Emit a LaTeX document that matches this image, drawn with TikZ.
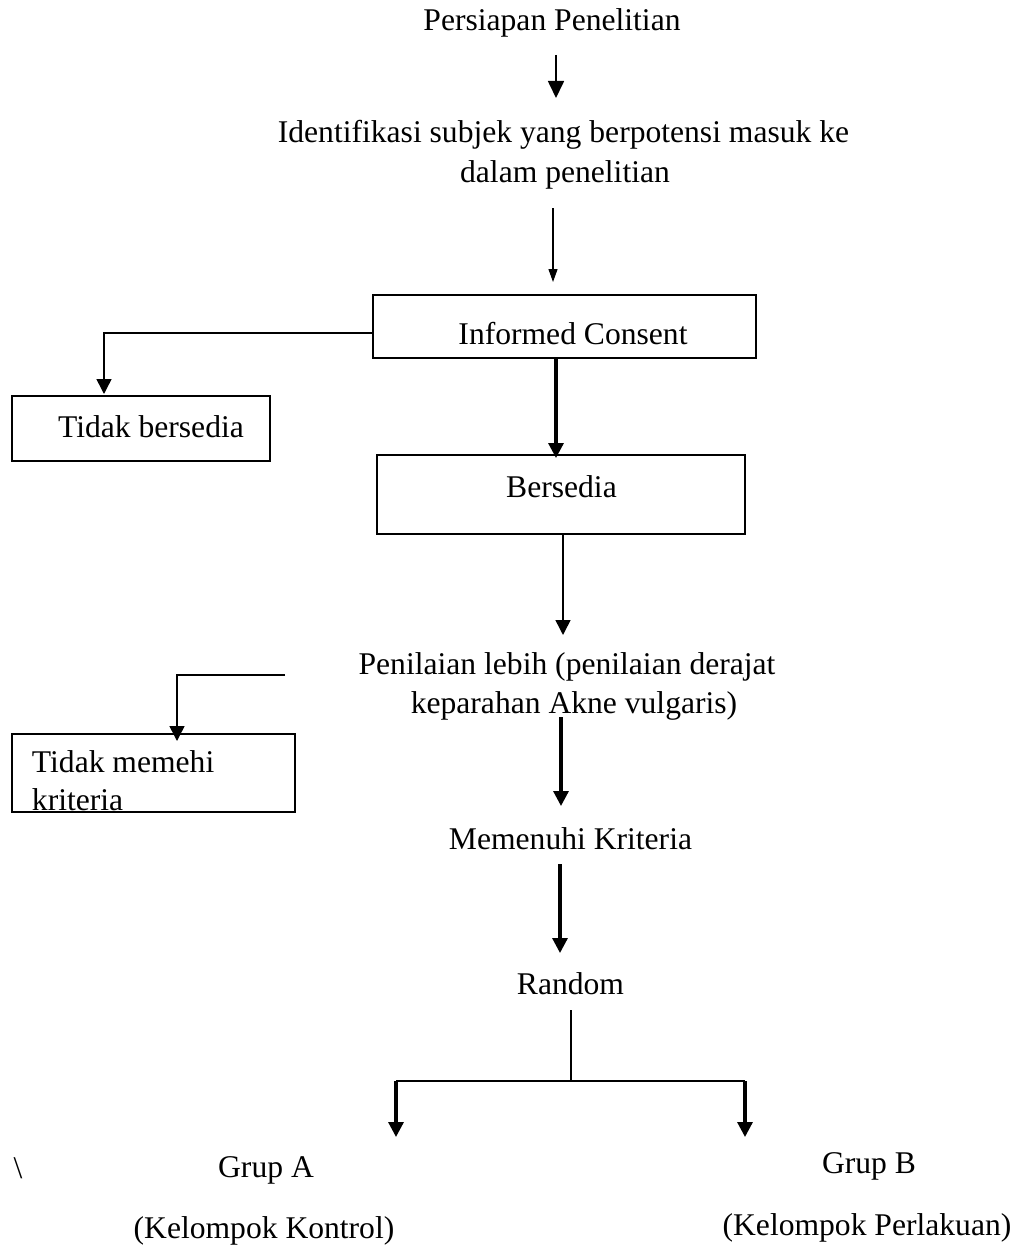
\documentclass[tikz,border=0pt]{standalone}
\usepackage{fontspec}
\setmainfont{Liberation Serif}
\usetikzlibrary{arrows.meta}
\begin{document}
\begin{tikzpicture}[x=0.5pt,y=-0.5pt,
  txt/.style={inner sep=0pt,outer sep=0pt,anchor=base,font=\fontsize{15.8}{20}\selectfont},
  txtw/.style={txt,anchor=base west},
  box/.style={draw,line width=0.9pt,inner sep=0pt,outer sep=0pt},
  thin/.style={line width=0.75pt,-{Triangle[width=7.5pt,length=7.5pt]}},
  thinsmall/.style={line width=0.6pt,-{Triangle[width=4.5pt,length=6.5pt]}},
  thick/.style={line width=1.6pt,-{Triangle[width=7.5pt,length=7.5pt]}},
  plain/.style={line width=0.75pt}]
\useasboundingbox (0,0) rectangle (1016,1247);

% boxes
\node[box,minimum width=191.5pt,minimum height=31.5pt] (ic) at (564.5,326.5) {};
\node[box,minimum width=129pt,minimum height=32.5pt] (tb) at (141,428.5) {};
\node[box,minimum width=184pt,minimum height=39.5pt] (bs) at (561,494.5) {};
\node[box,minimum width=141.5pt,minimum height=39pt] (tm) at (153.5,773) {};

% texts
\node[txt] (persiapan) at (552,31) {Persiapan Penelitian};
\node[txt] (ident1) at (563.5,142) {Identifikasi subjek yang berpotensi masuk ke};
\node[txt] (ident2) at (565,182) {dalam penelitian};
\node[txt] (ictxt) at (573,344) {Informed Consent};
\node[txt] (tbtxt) at (151,437) {Tidak bersedia};
\node[txt] (bstxt) at (561.5,497) {Bersedia};
\node[txt] (pen1) at (567,674) {Penilaian lebih (penilaian derajat};
\node[txt] (pen2) at (574,713) {keparahan Akne vulgaris)};
\node[txtw] (tm1) at (32,772) {Tidak memehi};
\node[txtw] (tm2) at (32,810) {kriteria};
\node[txt] (memenuhi) at (570.5,849) {Memenuhi Kriteria};
\node[txt] (random) at (570.5,994) {Random};
\node[txt] (slash) at (18,1178) {\textbackslash};
\node[txt] (grupA) at (266,1177) {Grup A};
\node[txt] (kontrol) at (264,1238) {(Kelompok Kontrol)};
\node[txt] (grupB) at (869,1173) {Grup B};
\node[txt] (perlakuan) at (867,1235) {(Kelompok Perlakuan)};

% connector coordinates
\coordinate (a1s) at (556,55);
\coordinate (a1e) at (556,98);
\coordinate (a2s) at (553,208);
\coordinate (a2e) at (553,282);
\coordinate (tbtop) at (104,394);
\coordinate (a5e) at (563,635);
\coordinate (pens) at (285,675);
\coordinate (tmtop) at (177,741);
\coordinate (a7s) at (561,717);
\coordinate (a7e) at (561,806);
\coordinate (a8s) at (560,864);
\coordinate (a8e) at (560,953);
\coordinate (rs) at (571,1010);
\coordinate (rj) at (571,1081);
\coordinate (la) at (396,1081);
\coordinate (ra) at (745,1081);
\coordinate (lae) at (396,1137);
\coordinate (rae) at (745,1137);

% connectors
\draw[line width=0.85pt,-{Triangle[width=8pt,length=8.5pt]}] (a1s) -- (a1e);
\draw[thinsmall] (a2s) -- (a2e);
\draw[thin] ([yshift=-3.25pt]ic.west) -| (tbtop);
\draw[thick] (ic.south -| 556,0) -- ([yshift=-1.5pt]bs.north -| 556,0);
\draw[thin] (bs.south -| 563,0) -- (a5e);
\draw[thin] (pens) -| (tmtop);
\draw[thick] (a7s) -- (a7e);
\draw[thick] (a8s) -- (a8e);
\draw[plain] (rs) -- (rj);
\draw[plain] (la) -- (ra);
\draw[thick] (la) -- (lae);
\draw[thick] (ra) -- (rae);
\end{tikzpicture}
\end{document}
